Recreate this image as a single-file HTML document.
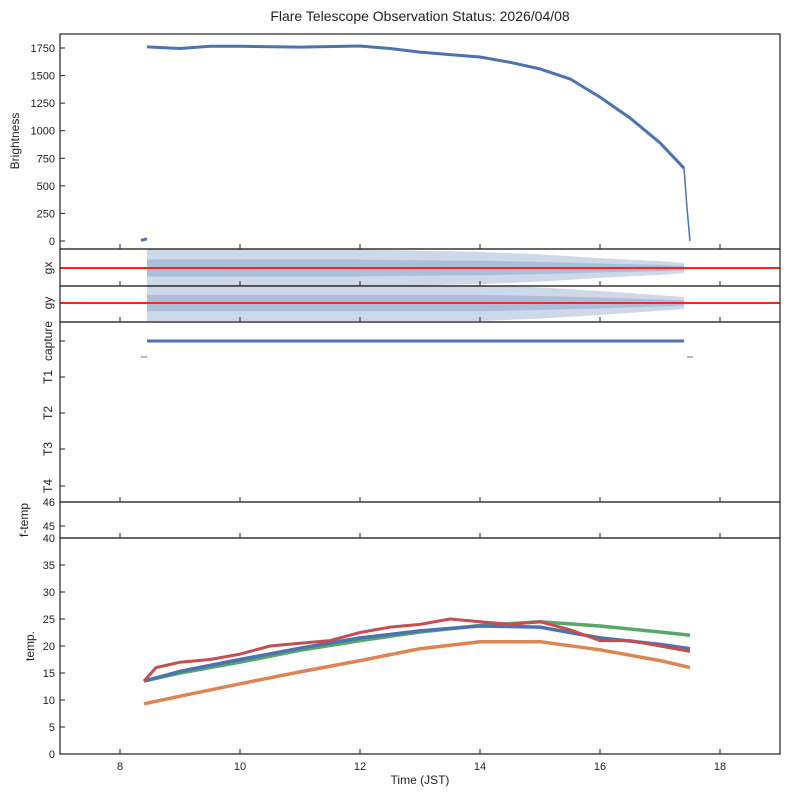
<!DOCTYPE html>
<html><head><meta charset="utf-8"><style>
body{margin:0;background:#fff}
svg{display:block;font-family:"Liberation Sans",sans-serif}
</style></head><body>
<svg id="c" width="789" height="798"></svg>
<script>
const times=[8.45,9,9.5,10,11,12,12.5,13,13.5,14,14.5,15,15.5,16,16.5,17,17.4];
const brightness=[1760,1745,1765,1765,1758,1768,1745,1713,1690,1668,1620,1560,1470,1305,1115,890,660];
const gxTimes=[8.45,10,12,14,15,16,17,17.4];
const gxSpread=[3,3,3,2.6,2.2,1.6,1.1,0.8];
const gySpread=[3,3,3,3,2.6,2,1.3,1];
const tTimes=[8.4,9,10,11,12,13,14,15,16,17,17.5];
const tBlue=[13.5,15.3,17.5,19.6,21.5,22.8,23.7,23.5,21.5,20.3,19.5];
const tGreen=[13.5,15,17,19.2,21,22.6,23.8,24.5,23.7,22.6,22];
const tOrange=[9.3,10.7,13,15.2,17.3,19.5,20.8,20.8,19.3,17.3,16];
const redTimes=[8.4,8.6,9,9.5,10,10.5,11,11.5,12,12.5,13,13.5,14,14.5,15,15.5,16,16.5,17,17.5];
const tRed=[13.5,16,17,17.5,18.5,20,20.5,21,22.5,23.5,24,25,24.5,24,24.5,23,21,21,20,19];
const xTicks=[8,10,12,14,16,18];
const bTicks=[0,250,500,750,1000,1250,1500,1750];
const tempTicks=[0,5,10,15,20,25,30,35,40];

const svg=document.getElementById('c');const NS='http://www.w3.org/2000/svg';
function mk(tag,at,txt){const e=document.createElementNS(NS,tag);for(const k in at)e.setAttribute(k,at[k]);if(txt!==undefined)e.textContent=txt;svg.appendChild(e);return e;}
const X=t=>60+(t-7)*60;
const L=60,R=780;
const panels=[[34,249,'brightness-panel'],[249,286,'gx-panel'],[286,322,'gy-panel'],[322,502,'capture-panel'],[502,538,'ftemp-panel'],[538,754,'temp-panel']];
const yB=v=>241-v*0.1103;
const yT=v=>754-v*5.4;
const yGx=v=>268-v*6.2, yGy=v=>303-v*6;
function line(xs,ys,col,w,name){const p=xs.map((t,i)=>X(t).toFixed(1)+','+ys[i].toFixed(1)).join(' ');
 const e=mk('polyline',{points:p,fill:'none',stroke:col,'stroke-width':w,'stroke-linejoin':'round'});
 return e;}
let t=mk('text',{x:420,y:21,'text-anchor':'middle','font-size':14,fill:'#222'},'Flare Telescope Observation Status: 2026/04/08');

function band(sp,yf,name){const top=gxTimes.map((tt,i)=>X(tt)+','+yf(sp[i]));const bot=gxTimes.map((tt,i)=>X(tt)+','+yf(-sp[i])).reverse();
 const e=mk('polygon',{points:top.concat(bot).join(' '),fill:'#4c72b0','fill-opacity':0.28});
 const top2=gxTimes.map((tt,i)=>X(tt)+','+yf(sp[i]*0.45));const bot2=gxTimes.map((tt,i)=>X(tt)+','+yf(-sp[i]*0.45)).reverse();
 const e2=mk('polygon',{points:top2.concat(bot2).join(' '),fill:'#4c72b0','fill-opacity':0.25});}
band(gxSpread,yGx,'gx-scatter');band(gySpread,yGy,'gy-scatter');
let r=mk('line',{x1:L,x2:R,y1:268,y2:268,stroke:'#ff2020','stroke-width':2});
r=mk('line',{x1:L,x2:R,y1:303,y2:303,stroke:'#ff2020','stroke-width':2});
line(times,brightness.map(yB),'#4c72b0',3,'brightness-series');
line([17.4,17.45,17.5],[yB(660),yB(300),yB(0)],'#4c72b0',1.5,'brightness-drop');
line([8.35,8.45],[yB(5),yB(20)],'#4c72b0',3,'brightness-pre');
line([8.45,17.4],[341,341],'#4c72b0',3,'capture-series');
line([8.35,8.45],[357,357],'#4c72b0',1,'capture-off-start');
line([17.45,17.55],[357,357],'#4c72b0',1,'capture-off-end');
line(tTimes,tGreen.map(yT),'#55a868',3.5,'temp-series-green');
line(tTimes,tBlue.map(yT),'#4c72b0',3.5,'temp-series-blue');
line(tTimes,tOrange.map(yT),'#dd8452',3.5,'temp-series-orange');
line(redTimes,tRed.map(yT),'#c44e52',3,'temp-series-red');
panels.forEach(([a,b,n])=>{const e=mk('rect',{x:L,y:a,width:R-L,height:b-a,fill:'none',stroke:'#222','stroke-width':1.2});
 xTicks.forEach(v=>{const k=mk('line',{x1:X(v),x2:X(v),y1:b,y2:b-5,stroke:'#222'});});});
xTicks.forEach(v=>{const e=mk('text',{x:X(v),y:770,'text-anchor':'middle','font-size':11,fill:'#222'},v);});
t=mk('text',{x:420,y:784,'text-anchor':'middle','font-size':12,fill:'#222'},'Time (JST)');
function ytick(y,lab){const k=mk('line',{x1:L,x2:L+5,y1:y,y2:y,stroke:'#222'});
 if(lab!==null){const e=mk('text',{x:55,y:y+4,'text-anchor':'end','font-size':11,fill:'#222'},lab);}}
bTicks.forEach(v=>ytick(yB(v),v));
tempTicks.forEach(v=>ytick(yT(v),v));
ytick(502,46);ytick(526,45);
function ylab(y,s,x,name){const e=mk('text',{x:x,y:y,'text-anchor':'middle','font-size':12,fill:'#222',transform:`rotate(-90 ${x} ${y})`},s);}
ylab(141,'Brightness',19,'brightness-axis-title');
ylab(268,'gx',52,'gx-axis-title');ylab(303,'gy',52,'gy-axis-title');
ylab(341,'capture',52,'capture-label');ylab(377,'T1',52,'t1-label');ylab(413,'T2',52,'t2-label');ylab(449,'T3',52,'t3-label');ylab(486,'T4',52,'t4-label');
[341,377,413,449,486].forEach(y=>ytick(y,null));
ylab(520,'f-temp',28,'ftemp-axis-title');
ylab(646,'temp.',34,'temp-axis-title');
</script></body></html>
